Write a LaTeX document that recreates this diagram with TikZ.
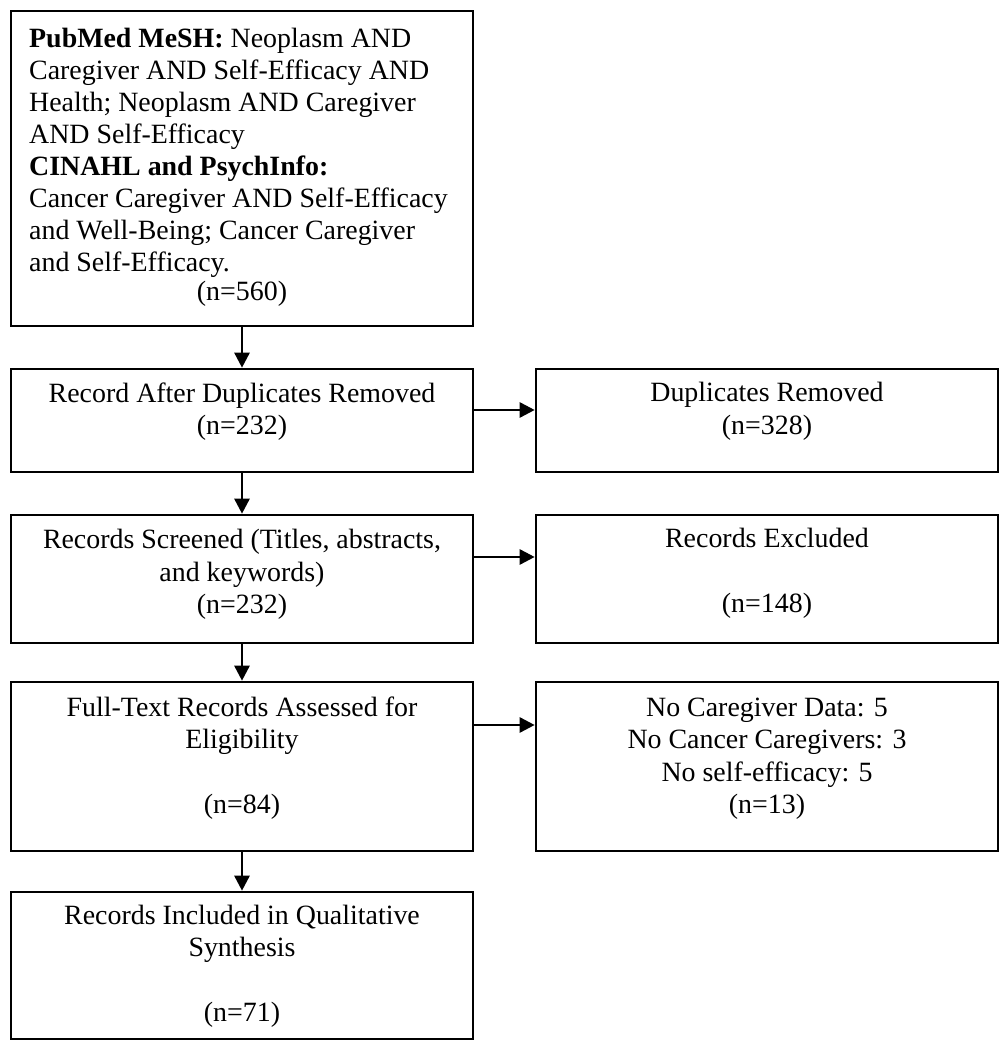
\documentclass[tikz,border=0pt]{standalone}
\usepackage{fontspec}
\setmainfont{Liberation Serif}
\usetikzlibrary{arrows.meta}
\begin{document}
\begin{tikzpicture}[x=1pt,y=1pt,
  box/.style={draw=black, line width=2.6pt, minimum width=462pt, inner sep=0pt},
  txt/.style={font=\fontsize{27.9}{32.5}\selectfont, align=center, inner sep=0pt},
  txtl/.style={font=\fontsize{27.9}{32}\selectfont, align=left, inner sep=0pt},
  arr/.style={line width=2.6pt, -{Triangle[length=15pt,width=15pt]}}]
\useasboundingbox (0,0) rectangle (1006,1050);
% left column
\node[box, minimum height=315pt] (b1) at (242,881.5) {};
\node[box, minimum height=103pt] (b2) at (242,629.5) {};
\node[box, minimum height=128pt] (b3) at (242,471) {};
\node[box, minimum height=169pt] (b4) at (242,283.5) {};
\node[box, minimum height=147pt] (b5) at (242,84.5) {};
% right column
\node[box, minimum height=103pt] (r2) at (767,629.5) {};
\node[box, minimum height=128pt] (r3) at (767,471) {};
\node[box, minimum height=169pt] (r4) at (767,283.5) {};
% texts
\node[txtl, anchor=north west] (t1) at (29,1022.5) {\textbf{PubMed MeSH:} Neoplasm AND\\
Caregiver AND Self-Efficacy AND\\
Health; Neoplasm AND Caregiver\\
AND Self-Efficacy\\
\textbf{CINAHL and PsychInfo:}\\
Cancer Caregiver AND Self-Efficacy\\
and Well-Being; Cancer Caregiver\\
and Self-Efficacy.};
\node[txt] (t1n) at (242,756.5) {(n=560)};
\node[txt] (t2) at ([yshift=9pt]b2.center) {Record After Duplicates Removed\\(n=232)};
\node[txt] (t3) at ([yshift=4.5pt]b3.center) {Records Screened (Titles, abstracts,\\and keywords)\\(n=232)};
\node[txt] (t4) at ([yshift=8.5pt]b4.center) {Full-Text Records Assessed for\\Eligibility\\[32.5pt](n=84)};
\node[txt] (t5) at ([yshift=-1pt]b5.center) {Records Included in Qualitative\\Synthesis\\[32.5pt](n=71)};
\node[txt] (s2) at ([yshift=9pt]r2.center) {Duplicates Removed\\(n=328)};
\node[txt] (s3) at ([yshift=5.5pt]r3.center) {Records Excluded\\[32.5pt](n=148)};
\node[txt] (s4) at ([yshift=8pt]r4.center) {No Caregiver Data: 5\\No Cancer Caregivers: 3\\No self-efficacy: 5\\(n=13)};
% connectors
\draw[arr] (b1.south) -- (b2.north);
\draw[arr] (b2.south) -- (b3.north);
\draw[arr] (b3.south) -- (b4.north);
\draw[arr] (b4.south) -- (b5.north);
\draw[arr] ([yshift=10.5pt]b2.east) -- ([yshift=10.5pt]r2.west);
\draw[arr] ([yshift=22pt]b3.east) -- ([yshift=22pt]r3.west);
\draw[arr] ([yshift=41.5pt]b4.east) -- ([yshift=41.5pt]r4.west);
\end{tikzpicture}
\end{document}
